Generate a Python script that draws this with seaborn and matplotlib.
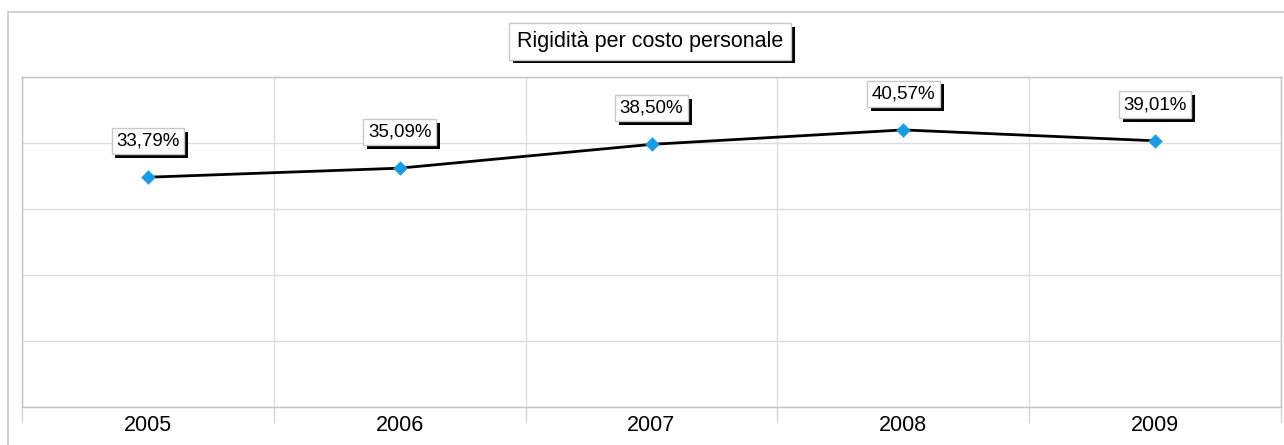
import numpy as np
import pandas as pd
import matplotlib
matplotlib.use("Agg")
import matplotlib.pyplot as plt
import matplotlib.patheffects as pe
from matplotlib.lines import Line2D
import seaborn as sns

# Data
years = ["2005", "2006", "2007", "2008", "2009"]
values = [33.79, 35.09, 38.50, 40.57, 39.01]
labels = ["33,79%", "35,09%", "38,50%", "40,57%", "39,01%"]
title = "Rigidità per costo personale"

df = pd.DataFrame({"year": years, "value": values})

sns.set_style("white")
plt.rcParams["font.family"] = ["Liberation Sans", "DejaVu Sans"]
plt.rcParams["text.color"] = "black"
plt.rcParams["xtick.color"] = "black"

fig = plt.figure(figsize=(12.84, 4.45), dpi=100)
ax = fig.add_axes([22 / 1284, 38 / 445, 1259 / 1284, 330 / 445])

sns.lineplot(data=df, x="year", y="value", color="black", linewidth=2.0,
             sort=False, ax=ax, zorder=3)
sns.scatterplot(data=df, x="year", y="value", marker="D", s=55,
                color="#1b9be3", edgecolor="#1b9be3", linewidth=0, ax=ax, zorder=4)

ymin, ymax = 0.87, 48.15
ax.set_ylim(ymin, ymax)
ax.set_xlim(-0.5, 4.5)
ax.set_yticks(np.linspace(ymin, ymax, 6))
ax.set_yticklabels([])
ax.tick_params(axis="y", length=0)
ax.set_xticks(range(len(years)))
ax.set_xticklabels(years, fontsize=15.5)
ax.set_xticks(np.arange(-0.5, 5, 1), minor=True)
ax.tick_params(axis="x", which="major", length=0, pad=6, bottom=True)
ax.tick_params(axis="x", which="minor", length=11.5, color="#d4d4d4", width=1, bottom=True)
ax.grid(axis="y", color="#dedede", linewidth=1)
ax.grid(axis="x", which="minor", color="#dedede", linewidth=1)
ax.set_xlabel("")
ax.set_ylabel("")
for s in ax.spines.values():
    s.set_color("#c4c4c4")
    s.set_linewidth(1)

shadow = [pe.SimplePatchShadow(offset=(2.8, -2.8), shadow_rgbFace="black", alpha=1),
          pe.Normal()]

for i, (v, lab) in enumerate(zip(values, labels)):
    t = ax.annotate(lab, xy=(i, v), xytext=(0, 26), textcoords="offset points",
                    ha="center", va="center", fontsize=13.5, zorder=5,
                    bbox=dict(boxstyle="square,pad=0.25", fc="white", ec="#c8c8c8", lw=1))
    t.get_bbox_patch().set_path_effects(shadow)

tt = fig.text(650 / 1284, 1 - 41.5 / 445, title, ha="center", va="center", fontsize=15.5,
              bbox=dict(boxstyle="square,pad=0.35", fc="white", ec="#c8c8c8", lw=1))
tt.get_bbox_patch().set_path_effects(shadow)

# outer chart frame
fig.add_artist(Line2D([8 / 1284, 8 / 1284], [0, 1 - 12 / 445], color="#c8c8c8", lw=1.2))
fig.add_artist(Line2D([8 / 1284, 1], [1 - 12 / 445, 1 - 12 / 445], color="#c8c8c8", lw=1.2))

fig.savefig("out.png", dpi=100)
